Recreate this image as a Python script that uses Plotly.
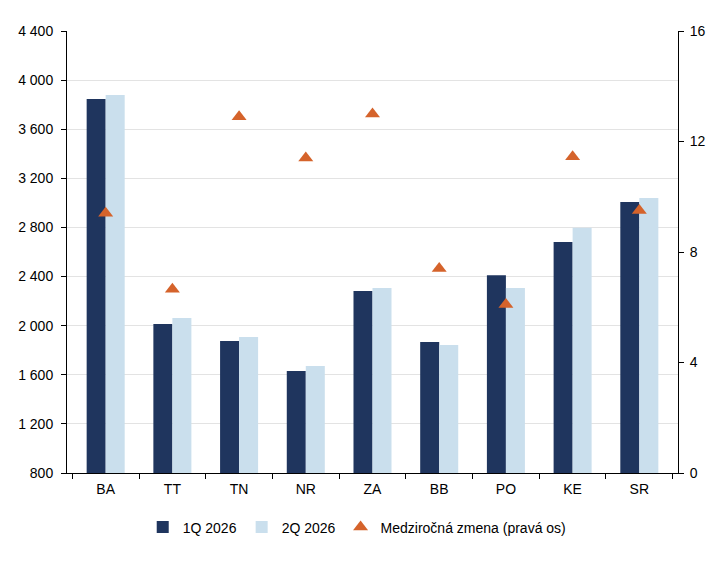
import plotly.graph_objects as go

categories = ["BA", "TT", "TN", "NR", "ZA", "BB", "PO", "KE", "SR"]
q1_2026 = [3846, 2014, 1875, 1631, 2282, 1867, 2410, 2681, 3007]
q2_2026 = [3879, 2062, 1908, 1671, 2307, 1843, 2307, 2798, 3040]
yoy_change = [9.4, 6.65, 12.9, 11.4, 13.0, 7.4, 6.1, 11.45, 9.5]

left_ticks = list(range(800, 4401, 400))
right_ticks = [0, 4, 8, 12, 16]

fig = go.Figure()
fig.add_trace(go.Bar(x=categories, y=q1_2026, name="1Q 2026",
                     marker=dict(color="#1F355E", line=dict(width=0))))
fig.add_trace(go.Bar(x=categories, y=q2_2026, name="2Q 2026",
                     marker=dict(color="#CADFED", line=dict(width=0))))
fig.add_trace(go.Scatter(x=categories, y=yoy_change, name="Medziročná zmena (pravá os)",
                         mode="markers", yaxis="y2",
                         marker=dict(symbol="triangle-up", size=13, color="#D5632B")))

fig.update_layout(
    width=722, height=561,
    margin=dict(l=59, r=52, t=23, b=96, autoexpand=False),
    paper_bgcolor="white", plot_bgcolor="white",
    font=dict(family="Liberation Sans, Arial, sans-serif", size=14, color="#000000"),
    separators=", ",
    barmode="group", bargap=0.43, bargroupgap=0,
    showlegend=True,
    legend=dict(orientation="h", x=0.475, xanchor="center", y=-0.087, yanchor="top",
                font=dict(size=14), itemwidth=30, traceorder="normal"),
    xaxis=dict(showline=True, linecolor="#000000", linewidth=1, automargin=False,
               ticks="outside", tickson="boundaries", ticklen=5, tickcolor="#000000",
               ticklabelstandoff=3, showgrid=False, mirror=False),
    yaxis=dict(range=[800, 4400], tickvals=left_ticks, tickformat=",d", automargin=False,
               ticklabelstandoff=5,
               showline=True, linecolor="#000000", linewidth=1,
               ticks="outside", ticklen=5, tickcolor="#000000",
               showgrid=True, gridcolor="#E3E3E3", gridwidth=1, zeroline=False),
    yaxis2=dict(range=[0, 16], tickvals=right_ticks, overlaying="y", side="right",
                automargin=False, ticklabelstandoff=3,
                showline=True, linecolor="#000000", linewidth=1,
                ticks="outside", ticklen=5, tickcolor="#000000",
                showgrid=False, zeroline=False),
)

fig.write_html("out.html")
